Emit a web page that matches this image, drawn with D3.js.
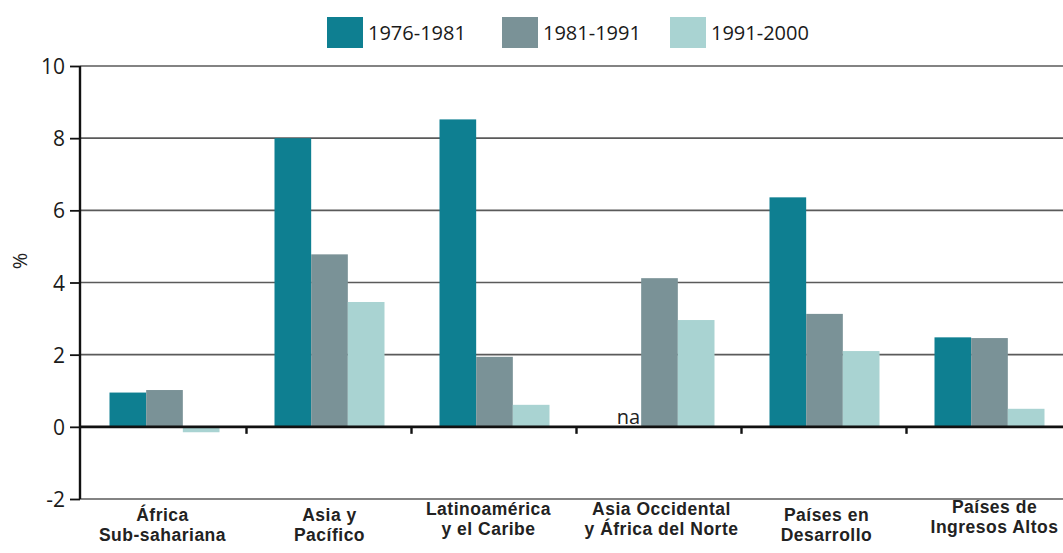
<!DOCTYPE html>
<html>
<head>
<meta charset="utf-8">
<script src="https://cdn.jsdelivr.net/npm/d3@7"></script>
<style>
  html, body { margin: 0; padding: 0; background: #fff; }
  svg { display: block; }
</style>
</head>
<body>
<svg id="chart" width="1063" height="553"></svg>
<script>
// ---- data ----
const categories = [
  ["África", "Sub-sahariana"],
  ["Asia y", "Pacífico"],
  ["Latinoamérica", "y el Caribe"],
  ["Asia Occidental", "y África del Norte"],
  ["Países en", "Desarrollo"],
  ["Países de", "Ingresos Altos"]
];
const seriesNames = ["1976-1981", "1981-1991", "1991-2000"];
const s1976_1981 = [0.95, 8.0, 8.52, null, 6.36, 2.48];
const s1981_1991 = [1.02, 4.78, 1.94, 4.12, 3.13, 2.46];
const s1991_2000 = [-0.15, 3.46, 0.61, 2.96, 2.1, 0.5];
const yTicks = [-2, 0, 2, 4, 6, 8, 10];
const naLabel = "na";
const yLabel = "%";

// ---- styles ----
const colors = ["#0e7f91", "#7a9297", "#a9d3d2"];
const seriesValues = [s1976_1981, s1981_1991, s1991_2000];

const svg = d3.select("#chart");
const catKeys = categories.map(c => c.join(" "));

const x0 = d3.scaleBand().domain(catKeys).range([82, 1072]).padding(0);
const x1 = d3.scaleBand().domain(seriesNames)
  .range([27.5, x0.bandwidth() - 27.5]).padding(0);
const y = d3.scaleLinear().domain([-2, 10]).range([499, 66]);

// gridlines
svg.append("g")
  .selectAll("line")
  .data(yTicks.filter(t => t !== 0))
  .join("line")
  .attr("x1", 80).attr("x2", 1063)
  .attr("y1", d => y(d)).attr("y2", d => y(d))
  .attr("stroke", "#5a5a5a").attr("stroke-width", 1.6);

// bars
const rows = [];
categories.forEach((c, i) => {
  seriesNames.forEach((s, j) => {
    const v = seriesValues[j][i];
    if (v !== null) rows.push({ cat: catKeys[i], s, v, j });
  });
});
svg.append("g")
  .selectAll("rect")
  .data(rows)
  .join("rect")
  .attr("x", d => x0(d.cat) + x1(d.s))
  .attr("width", x1.bandwidth())
  .attr("y", d => y(Math.max(0, d.v)))
  .attr("height", d => Math.abs(y(d.v) - y(0)))
  .attr("fill", d => colors[d.j]);

// na label
const naIdx = s1976_1981.findIndex(v => v === null);
svg.append("text")
  .attr("x", x0(catKeys[naIdx]) + x1(seriesNames[0]) + x1.bandwidth() - 1)
  .attr("y", y(0) - 3)
  .attr("text-anchor", "end")
  .attr("font-family", "'Open Sans', sans-serif")
  .attr("font-size", 20)
  .attr("fill", "#222")
  .text(naLabel);

// zero line
svg.append("line")
  .attr("x1", 80).attr("x2", 1063)
  .attr("y1", y(0)).attr("y2", y(0))
  .attr("stroke", "#111").attr("stroke-width", 2.6);

// category boundary ticks on zero line
svg.append("g")
  .selectAll("line")
  .data(catKeys.slice(1))
  .join("line")
  .attr("x1", d => x0(d) - 0.5).attr("x2", d => x0(d) - 0.5)
  .attr("y1", y(0)).attr("y2", y(0) + 7)
  .attr("stroke", "#111").attr("stroke-width", 2.4);

// y axis
const yAxis = d3.axisLeft(y).tickValues(yTicks).tickSize(10).tickPadding(5)
  .tickFormat(d => String(d));
const gy = svg.append("g").attr("transform", "translate(80,0)").call(yAxis);
gy.select(".domain").attr("stroke", "#111").attr("stroke-width", 2.4)
  .attr("d", `M0,${y(-2)}V${y(10)}`);
gy.selectAll(".tick line").attr("stroke", "#111").attr("stroke-width", 1.8);
gy.selectAll(".tick text")
  .attr("font-family", "'Open Sans', sans-serif")
  .attr("font-size", 21)
  .attr("fill", "#1a1a1a")
  .attr("dy", "0.36em");

// y label
svg.append("text")
  .attr("transform", "translate(27,261) rotate(-90)")
  .attr("text-anchor", "middle")
  .attr("font-family", "'Open Sans', sans-serif")
  .attr("font-size", 20)
  .attr("fill", "#222")
  .text(yLabel);

// category labels
const labelShift = [0, 0, -6, -6, 0, -8];
const labelDx = [-2, 0, -6, 2, 2, 5];
const catG = svg.append("g");
categories.forEach((c, i) => {
  const cx = x0(catKeys[i]) + x0.bandwidth() / 2 + labelDx[i];
  const t = catG.append("text")
    .attr("text-anchor", "middle")
    .attr("font-family", "'Liberation Sans', Arial, sans-serif")
    .attr("font-weight", "bold")
    .attr("font-size", 17.5)
    .attr("letter-spacing", 0.5)
    .attr("fill", "#222");
  c.forEach((line, k) => {
    t.append("tspan")
      .attr("x", cx)
      .attr("y", 521 + labelShift[i] + k * 20)
      .text(line);
  });
});

// legend
const legendX = [327, 502, 670];
const leg = svg.append("g");
seriesNames.forEach((s, j) => {
  leg.append("rect")
    .attr("x", legendX[j]).attr("y", 17)
    .attr("width", 36).attr("height", 31)
    .attr("fill", colors[j]);
  leg.append("text")
    .attr("x", legendX[j] + 41).attr("y", 40)
    .attr("font-family", "'Open Sans', sans-serif")
    .attr("font-size", 20)
    .attr("fill", "#1a1a1a")
    .text(s);
});
</script>
</body>
</html>
